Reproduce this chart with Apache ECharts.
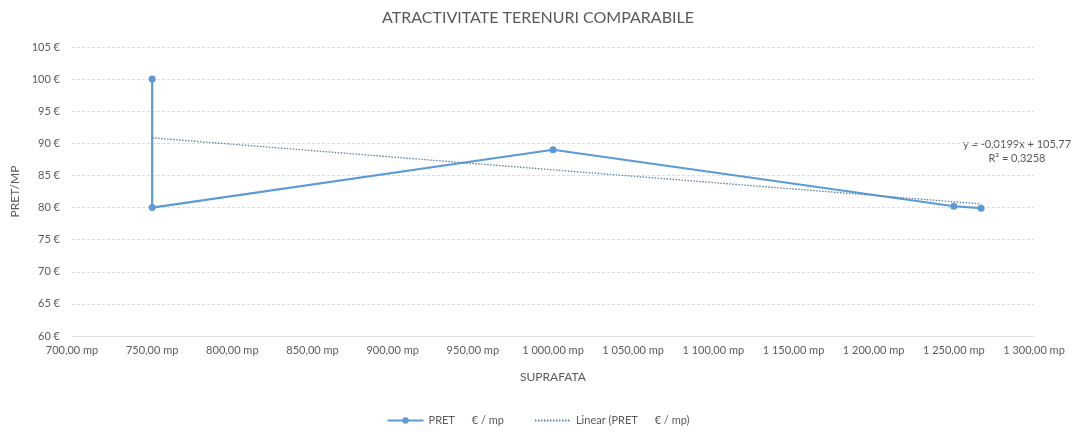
<!DOCTYPE html>
<html>
<head>
<meta charset="utf-8">
<script src="https://cdn.jsdelivr.net/npm/echarts@6/dist/echarts.min.js"></script>
<style>
html,body{margin:0;padding:0;background:#fff;}
#c{width:1076px;height:434px;}
</style>
</head>
<body>
<div id="c"></div>
<script>
// Data
var surfaces = [750, 750, 1000, 1250, 1267];          // SUPRAFATA (mp)
var prices   = [100, 80, 89, 80.2, 79.9];              // PRET €/mp
var trendX   = [750, 1267];                            // linear trend endpoints
var trendY   = [90.85, 80.56];
var yTicks   = [60, 65, 70, 75, 80, 85, 90, 95, 100, 105];
var xTicks   = [700, 750, 800, 850, 900, 950, 1000, 1050, 1100, 1150, 1200, 1250, 1300];
var equationText = 'y = -0,0199x + 105,77';
var r2Text = 'R² = 0,3258';
var seriesName = 'PRET      € / mp';
var trendName = 'Linear (PRET      € / mp)';

var FONT = 'Lato, "Open Sans", sans-serif';
var TXT = '#595959';
var BLUE = '#5b9bd5';

function fmtX(v){
  var s = v.toFixed(2).replace('.', ',');
  var parts = s.split(',');
  var ip = parts[0].replace(/\B(?=(\d{3})+(?!\d))/g, ' ');
  return ip + ',' + parts[1] + ' mp';
}

var chart = echarts.init(document.getElementById('c'), null, {renderer:'canvas'});
chart.setOption({
  animation:false,
  backgroundColor:'#fff',
  textStyle:{fontFamily:FONT},
  title:{
    text:'ATRACTIVITATE TERENURI COMPARABILE',
    left:'center', top:5,
    textStyle:{fontFamily:FONT, fontSize:16, fontWeight:'normal', color:TXT}
  },
  legend:{
    bottom:3, left:'center', itemGap:30, itemWidth:36, itemHeight:8,
    textStyle:{fontFamily:FONT, fontSize:11, color:TXT},
    data:[{name:seriesName},{name:trendName, itemStyle:{opacity:0}}]
  },
  grid:{left:72, right:42, top:47, bottom:98},
  xAxis:{
    type:'value', min:xTicks[0], max:xTicks[xTicks.length-1], interval:50,
    name:'SUPRAFATA', nameLocation:'middle', nameGap:35,
    nameTextStyle:{fontFamily:FONT, fontSize:12, color:TXT},
    axisLine:{show:true, lineStyle:{color:'#e2e2e2'}},
    axisTick:{show:false},
    splitLine:{show:false},
    axisLabel:{formatter:fmtX, fontFamily:FONT, fontSize:11, color:TXT, margin:9}
  },
  yAxis:{
    type:'value', min:yTicks[0], max:yTicks[yTicks.length-1], interval:5,
    name:'PRET/MP', nameLocation:'middle', nameGap:46, nameRotate:90,
    nameTextStyle:{fontFamily:FONT, fontSize:12, color:TXT},
    axisLine:{show:false}, axisTick:{show:false},
    splitLine:{show:true, lineStyle:{color:'#dcdcdc', type:[3,2]}},
    axisLabel:{formatter:function(v){return v+' €';}, fontFamily:FONT, fontSize:11, color:TXT, margin:12}
  },
  series:[
    {
      name:seriesName, type:'line',
      data:surfaces.map(function(x,i){return [x, prices[i]];}),
      symbol:'circle', symbolSize:7,
      lineStyle:{color:BLUE, width:2.2},
      itemStyle:{color:BLUE}
    },
    {
      name:trendName, type:'line',
      data:trendX.map(function(x,i){return [x, trendY[i]];}),
      symbol:'none',
      lineStyle:{color:'#5a7fa8', width:1.3, type:[1.5,1.5]},
      itemStyle:{color:'#5a7fa8'}
    }
  ],
  graphic:[
    {type:'text', x:1017, y:139, style:{text:equationText, fill:TXT, font:'11px '+FONT, textAlign:'center'}},
    {type:'text', x:1017, y:153, style:{text:r2Text, fill:TXT, font:'11px '+FONT, textAlign:'center'}}
  ]
});
</script>
</body>
</html>
